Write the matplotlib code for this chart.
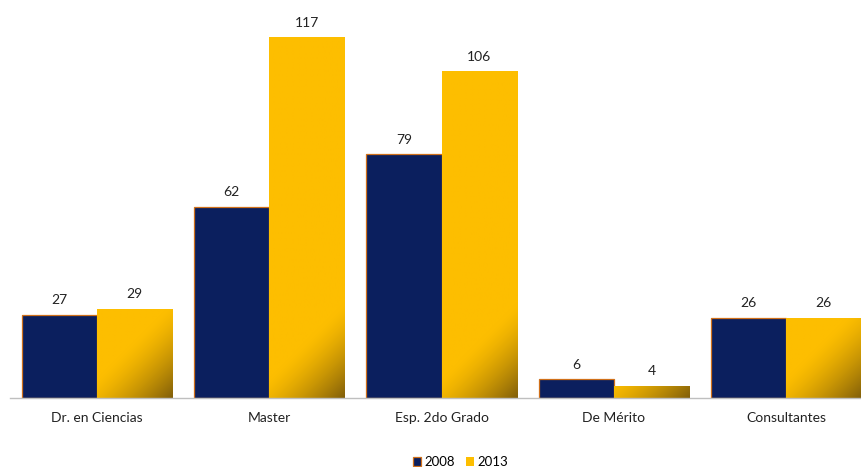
import matplotlib.pyplot as plt
import numpy as np

categorias = ['Dr. en Ciencias', 'Master', 'Esp. 2do Grado', 'De Mérito', 'Consultantes']
anio_2008 = [27, 62, 79, 6, 26]
anio_2013 = [29, 117, 106, 4, 26]
series_labels = ['2008', '2013']

plt.rcParams['font.family'] = ['Lato', 'DejaVu Sans']

fig = plt.figure(figsize=(8.61, 4.67), dpi=100)
ax = fig.add_axes([10 / 861, 69 / 467, 1 - 10 / 861, 398 / 467])

x = np.arange(len(categorias))
w = 0.436
navy = '#0B1F5E'
gold = '#FDBE00'

b1 = ax.bar(x - w / 2, anio_2008, w, color=navy, edgecolor='#D0701A', linewidth=0.9,
            label=series_labels[0], zorder=2)
b2 = ax.bar(x + w / 2, anio_2013, w, color=gold, linewidth=0,
            label=series_labels[1], zorder=2)

ax.set_xlim(-0.505, 4.434)
ax.set_ylim(0, 129)

# diagonal darkening toward the bottom-right corner of the yellow bars
px_x = 172.3  # pixels per category unit
px_y = 3.085  # pixels per value unit
for bar in b2:
    x0, y0 = bar.get_x(), bar.get_y()
    bw, bh = bar.get_width(), bar.get_height()
    W, H = bw * px_x, bh * px_y
    nu, nv = max(int(W), 2), max(int(H), 2)
    u = np.linspace(0, 1, nu)
    v = np.linspace(1, 0, nv)
    U, V = np.meshgrid(u, v)
    d = (1 - U) * W + V * H
    dark = np.clip(1 - d / 95, 0, 1) ** 1.4
    base = np.array([253, 190, 0]) / 255
    deep = np.array([130, 95, 10]) / 255
    rgb = base[None, None, :] * (1 - dark[..., None]) + deep[None, None, :] * dark[..., None]
    im = ax.imshow(rgb, extent=(x0, x0 + bw, y0, y0 + bh), aspect='auto',
                   interpolation='bilinear', zorder=3)
    im.set_clip_path(bar)

ax.bar_label(b1, padding=6, fontsize=10, color='#222222')
ax.bar_label(b2, padding=6, fontsize=10, color='#222222')

ax.set_xticks(x)
ax.set_xticklabels(categorias, fontsize=10, color='#222222')
ax.tick_params(axis='x', length=0, pad=10)
ax.set_yticks([])
for s in ['top', 'right', 'left']:
    ax.spines[s].set_visible(False)
ax.spines['bottom'].set_color('#BFBFBF')
ax.spines['bottom'].set_linewidth(1)
ax.spines['bottom'].set_zorder(4)

fig.legend(handles=[b1, b2], loc='lower center', bbox_to_anchor=(0.535, -0.028), ncol=2,
           frameon=False, fontsize=9.5, handlelength=0.6, handleheight=0.6,
           handletextpad=0.3, columnspacing=0.8)

fig.savefig('out.png', dpi=100)
